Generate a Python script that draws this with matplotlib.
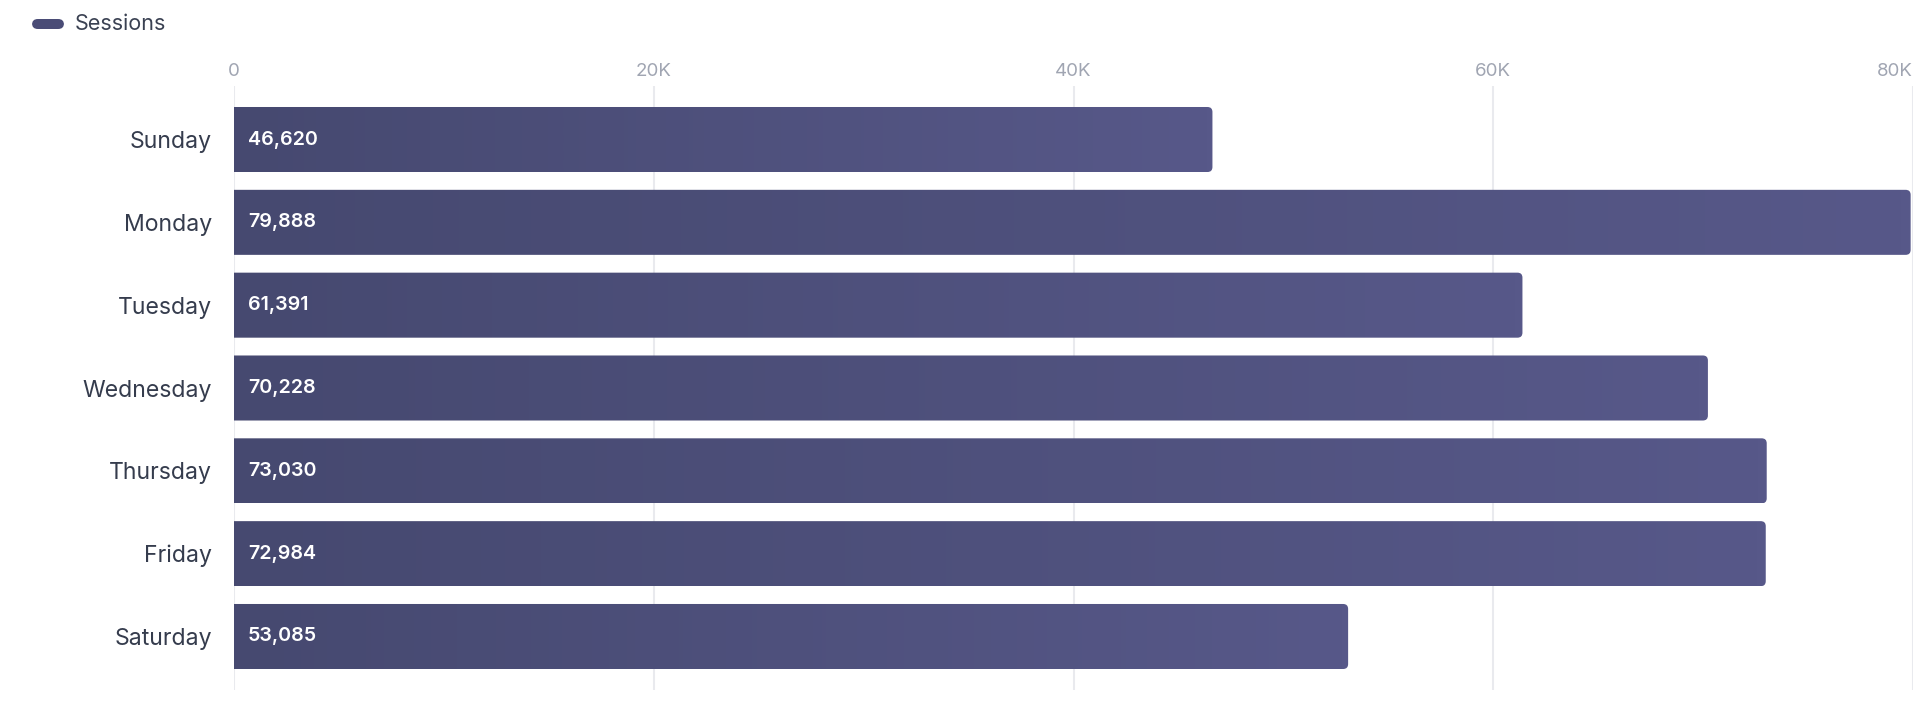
import matplotlib
matplotlib.use("Agg")
import matplotlib.pyplot as plt
import numpy as np
from matplotlib.path import Path
from matplotlib.patches import PathPatch, FancyBboxPatch
from matplotlib.colors import LinearSegmentedColormap
from matplotlib.ticker import FuncFormatter

days = ["Sunday", "Monday", "Tuesday", "Wednesday", "Thursday", "Friday", "Saturday"]
sessions = [46620, 79888, 61391, 70228, 73030, 72984, 53085]
xticks = [0, 20000, 40000, 60000, 80000]
series_name = "Sessions"

plt.rcParams['font.family'] = ['Inter', 'DejaVu Sans']

W, H = 1930, 724
fig = plt.figure(figsize=(W / 100, H / 100), dpi=100)
ax_l, ax_r, ax_t, ax_b = 234, 1913, 86, 690
ax = fig.add_axes([ax_l / W, 1 - ax_b / H, (ax_r - ax_l) / W, (ax_b - ax_t) / H])

xmax = 80000
pad = 0.646
ax.set_xlim(0, xmax)
ax.set_ylim(len(days) - 1 + pad, -pad)

cmap = LinearSegmentedColormap.from_list("g", ["#464970", "#575889"])
grad = np.linspace(0, 1, 256).reshape(1, -1)

bar_h = 0.785
px_x = xmax / (ax_r - ax_l)
px_y = (len(days) - 1 + 2 * pad) / (ax_b - ax_t)
rx, ry = 5 * px_x, 5 * px_y

for i, v in enumerate(sessions):
    y0, y1 = i - bar_h / 2, i + bar_h / 2
    verts = [(0, y0), (v - rx, y0), (v, y0), (v, y0 + ry), (v, y1 - ry), (v, y1),
             (v - rx, y1), (0, y1), (0, y0)]
    codes = [Path.MOVETO, Path.LINETO, Path.CURVE3, Path.CURVE3, Path.LINETO,
             Path.CURVE3, Path.CURVE3, Path.LINETO, Path.CLOSEPOLY]
    patch = PathPatch(Path(verts, codes), facecolor="none", edgecolor="none", zorder=3)
    ax.add_patch(patch)
    im = ax.imshow(grad, cmap=cmap, aspect="auto", extent=[0, v, y1, y0],
                   zorder=3, interpolation="bilinear")
    im.set_clip_path(patch)
    ax.text(14 * px_x, i, f"{v:,}", color="white", fontsize=14.2, fontweight="semibold",
            va="center", ha="left", zorder=4)

ax.set_xlim(0, xmax)
ax.set_ylim(len(days) - 1 + pad, -pad)

for t in xticks:
    ax.axvline(t, color="#e9eaee", lw=1.5, zorder=1)

ax.set_xticks(xticks)
ax.xaxis.set_major_formatter(FuncFormatter(lambda x, p: "0" if x == 0 else f"{int(x/1000)}K"))
ax.xaxis.tick_top()
ax.tick_params(axis="x", length=0, pad=4.5, labelsize=13.5, labelcolor="#a0a5b2")
ticklabels = ax.get_xticklabels()
for lbl, t in zip(ticklabels, xticks):
    if t == xmax:
        lbl.set_ha("right")
ax.set_yticks(range(len(days)))
ax.set_yticklabels(days)
ax.tick_params(axis="y", length=0, pad=15.8, labelsize=16.6, labelcolor="#353c4d")
for s in ax.spines.values():
    s.set_visible(False)
ax.set_facecolor("white")

# legend
fig.patches.append(FancyBboxPatch((32 / W, 1 - 29 / H), 32 / W, 10 / H,
                                  boxstyle="round,pad=0,rounding_size=0.003",
                                  transform=fig.transFigure, facecolor="#4a4c76",
                                  edgecolor="none", mutation_aspect=W / H))
fig.text(75 / W, 1 - 24 / H, series_name, fontsize=15.5, color="#3a4152", va="center", ha="left")

fig.savefig("out.png", dpi=100, facecolor="white")
